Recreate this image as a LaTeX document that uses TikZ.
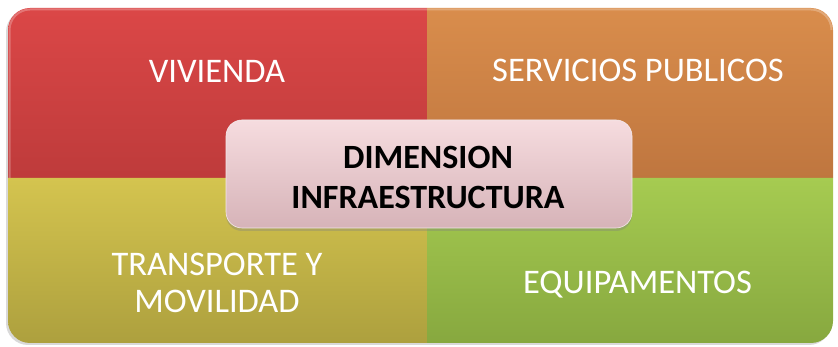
\documentclass[tikz,border=0pt]{standalone}
\usepackage{fontspec}
\setmainfont{Carlito}
\usetikzlibrary{shadows}
\definecolor{redT}{HTML}{DB4747}
\definecolor{redB}{HTML}{BE3B3B}
\definecolor{orT}{HTML}{D98D4C}
\definecolor{orB}{HTML}{BF763F}
\definecolor{yeT}{HTML}{D4C44F}
\definecolor{yeB}{HTML}{ADA03E}
\definecolor{grT}{HTML}{A6CB51}
\definecolor{grB}{HTML}{87A83F}
\definecolor{ceT}{HTML}{F6DCDF}
\definecolor{ceB}{HTML}{D6B3B8}
\tikzset{
  quadlabel/.style={text=white, font=\fontsize{34.5}{37}\selectfont, align=center, inner sep=0pt},
  centerbox/.style={rounded corners=16pt, top color=ceT, bottom color=ceB, draw=white!70!ceB, line width=0.6pt,
     drop shadow={opacity=0.35, shadow xshift=0pt, shadow yshift=-3pt}},
  centerlabel/.style={text=black, font=\bfseries\fontsize{34}{40}\selectfont, align=center, inner sep=0pt}
}
\begin{document}
\begin{tikzpicture}[x=1pt,y=1pt]
\useasboundingbox (0,0) rectangle (838,347);
% outer shadow
\fill[black, opacity=0.15, rounded corners=22pt] (6,2) rectangle (831,337);
% quadrants
\path[top color=redT, bottom color=redB] (8,169) -- (8,317) arc[start angle=180,end angle=90,radius=22] -- (427,339) -- (427,169) -- cycle;
\path[top color=orT, bottom color=orB] (427,339) -- (811,339) arc[start angle=90,end angle=0,radius=22] -- (833,169) -- (427,169) -- cycle;
\path[top color=yeT, bottom color=yeB] (8,169) -- (427,169) -- (427,4) -- (30,4) arc[start angle=270,end angle=180,radius=22] -- cycle;
\path[top color=grT, bottom color=grB] (427,169) -- (833,169) -- (833,26) arc[start angle=0,end angle=-90,radius=22] -- (427,4) -- cycle;
% subtle bevel
\draw[white, opacity=0.25, line width=2pt] (9.5,169) -- (9.5,317) arc[start angle=180,end angle=90,radius=20.5] -- (811,337.5) arc[start angle=90,end angle=0,radius=20.5];
% labels
\node[quadlabel, anchor=base] (viv) at (217,264) {VIVIENDA};
\node[quadlabel, anchor=base] (serv) at (638,265) {SERVICIOS PUBLICOS};
\node[quadlabel] (trans) at (217,64.5) {TRANSPORTE Y\\MOVILIDAD};
\node[quadlabel, anchor=base] (equi) at (637.5,53) {EQUIPAMENTOS};
% center
\path[centerbox] (226,119) rectangle (632,227);
\node[centerlabel] (dim) at (428,169.5) {DIMENSION\\INFRAESTRUCTURA};
\end{tikzpicture}
\end{document}
